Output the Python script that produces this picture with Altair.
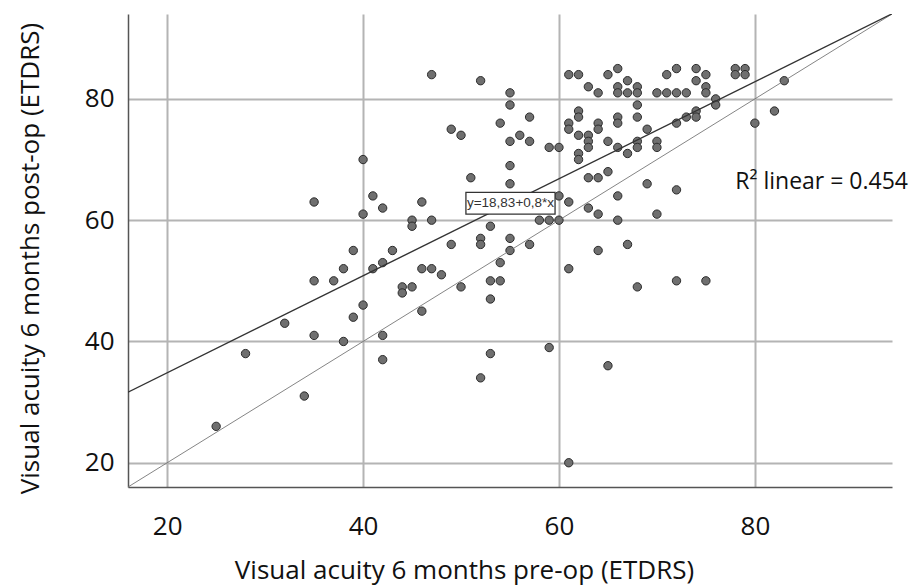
import altair as alt
import pandas as pd

# ---- data ----
pre = [25, 28, 32, 34, 35, 35, 35, 37, 38, 38, 39, 39, 40, 40, 40, 41, 41, 42, 42, 42,
       42, 43, 44, 44, 45, 45, 45, 46, 46, 46, 47, 47, 47, 48, 49, 49, 50, 50, 51, 52,
       52, 52, 52, 53, 53, 53, 53, 54, 54, 54, 55, 55, 55, 55, 55, 55, 55, 56, 57, 57,
       57, 58, 59, 59, 59, 60, 60, 60, 61, 61, 61, 61, 61, 61, 62, 62, 62, 62, 62, 62,
       63, 63, 63, 63, 63, 63, 64, 64, 64, 64, 64, 64, 65, 65, 65, 65, 66, 66, 66, 66,
       66, 66, 66, 66, 67, 67, 67, 67, 68, 68, 68, 68, 68, 68, 68, 69, 69, 70, 70, 70,
       70, 71, 71, 72, 72, 72, 72, 72, 73, 73, 74, 74, 74, 74, 75, 75, 75, 75, 76, 76,
       78, 78, 79, 79, 80, 82, 83]
post = [26, 38, 43, 31, 63, 50, 41, 50, 52, 40, 55, 44, 70, 61, 46, 64, 52, 62, 53, 41,
        37, 55, 49, 48, 60, 59, 49, 63, 52, 45, 84, 60, 52, 51, 75, 56, 74, 49, 67, 83,
        57, 56, 34, 59, 50, 47, 38, 76, 53, 50, 81, 79, 73, 69, 66, 57, 55, 74, 77, 73,
        56, 60, 72, 60, 39, 72, 64, 60, 84, 76, 75, 63, 52, 20, 84, 78, 77, 74, 71, 70,
        82, 74, 73, 72, 67, 62, 81, 76, 75, 67, 61, 55, 84, 73, 68, 36, 85, 82, 81, 77,
        76, 72, 64, 60, 83, 81, 71, 56, 82, 81, 79, 77, 73, 72, 49, 75, 66, 81, 73, 72,
        61, 84, 81, 85, 81, 76, 65, 50, 81, 77, 85, 83, 78, 77, 84, 82, 81, 50, 80, 79,
        85, 84, 85, 84, 76, 78, 83]

x_ticks = [20, 40, 60, 80]
y_ticks = [20, 40, 60, 80]
axis_range = [16, 94]

fit_intercept = 18.83
fit_slope = 0.8
fit_label = "y=18,83+0,8*x"
fit_label_box_x = [50.5, 59.6]
fit_label_box_y = [61.0, 64.6]
r2_label = "R\u00b2 linear = 0.454"
r2_pos = [78.0, 65.1]

x_title = "Visual acuity 6 months pre-op (ETDRS)"
y_title = "Visual acuity 6 months post-op (ETDRS)"

# ---- tables (all layers share the field names pre / post) ----
points = pd.DataFrame({"pre": pre, "post": post})
fit_df = pd.DataFrame({"pre": axis_range,
                       "post": [fit_intercept + fit_slope * v for v in axis_range]})
ident_df = pd.DataFrame({"pre": axis_range, "post": axis_range})
box_df = pd.DataFrame({"pre": [fit_label_box_x[0]], "pre2": [fit_label_box_x[1]],
                       "post": [fit_label_box_y[0]], "post2": [fit_label_box_y[1]]})
box_txt_df = pd.DataFrame({"pre": [sum(fit_label_box_x) / 2],
                           "post": [sum(fit_label_box_y) / 2], "label": [fit_label]})
r2_df = pd.DataFrame({"pre": [r2_pos[0]], "post": [r2_pos[1]], "label": [r2_label]})

xs = alt.Scale(domain=axis_range, nice=False, zero=False)
ys = alt.Scale(domain=axis_range, nice=False, zero=False)

FONT = "Open Sans"

x_axis = alt.Axis(values=x_ticks, title=x_title, grid=True, ticks=False,
                  labelPadding=26, labelFontSize=26, labelFont=FONT, labelColor="#111",
                  titleFont=FONT, titleFontSize=26, titleFontWeight="normal", titleColor="#111",
                  titleX=336, titleY=91, titleBaseline="alphabetic", titleAlign="center",
                  titleAnchor="start",
                  domainColor="#555", domainWidth=1.5,
                  gridColor="#b4b4b4", gridWidth=2)
y_axis = alt.Axis(values=y_ticks, title=y_title, grid=True, ticks=False,
                  labelPadding=14, labelFontSize=26, labelFont=FONT, labelColor="#111",
                  labelBaseline="middle",
                  titleFont=FONT, titleFontSize=26, titleFontWeight="normal", titleColor="#111",
                  titleX=-90, titleY=244, titleAngle=-90, titleBaseline="alphabetic",
                  titleAlign="center", titleAnchor="start",
                  domainColor="#555", domainWidth=1.5,
                  gridColor="#b4b4b4", gridWidth=2)

X = alt.X("pre:Q", scale=xs, axis=x_axis)
Y = alt.Y("post:Q", scale=ys, axis=y_axis)

pts = alt.Chart(points).mark_circle(size=70, color="#6f6f6f", opacity=1,
                                    stroke="#2b2b2b", strokeWidth=1).encode(x=X, y=Y)

ident = alt.Chart(ident_df).mark_line(color="#777", strokeWidth=0.9, clip=True).encode(x=X, y=Y)

fit = alt.Chart(fit_df).mark_line(color="#333", strokeWidth=1.4, clip=True).encode(x=X, y=Y)

box = alt.Chart(box_df).mark_rect(fill="white", stroke="#333", strokeWidth=1.3).encode(
    x=X, x2="pre2:Q", y=Y, y2="post2:Q")

box_text = alt.Chart(box_txt_df).mark_text(font="Liberation Sans", fontSize=13.5, color="#333",
                                           align="center", baseline="middle").encode(
    x=X, y=Y, text="label:N")

r2_text = alt.Chart(r2_df).mark_text(font=FONT, fontSize=23, color="#111",
                                     align="left", baseline="alphabetic").encode(
    x=X, y=Y, text="label:N")

chart = alt.layer(pts, ident, fit, box, box_text, r2_text).properties(
    width=764, height=473,
    autosize=alt.AutoSizeParams(type="none"),
    padding={"left": 128, "top": 14, "right": 29, "bottom": 100},
    background="white",
).configure_view(stroke=None)

chart.save("out.html", embed_options={"renderer": "svg", "actions": False})
